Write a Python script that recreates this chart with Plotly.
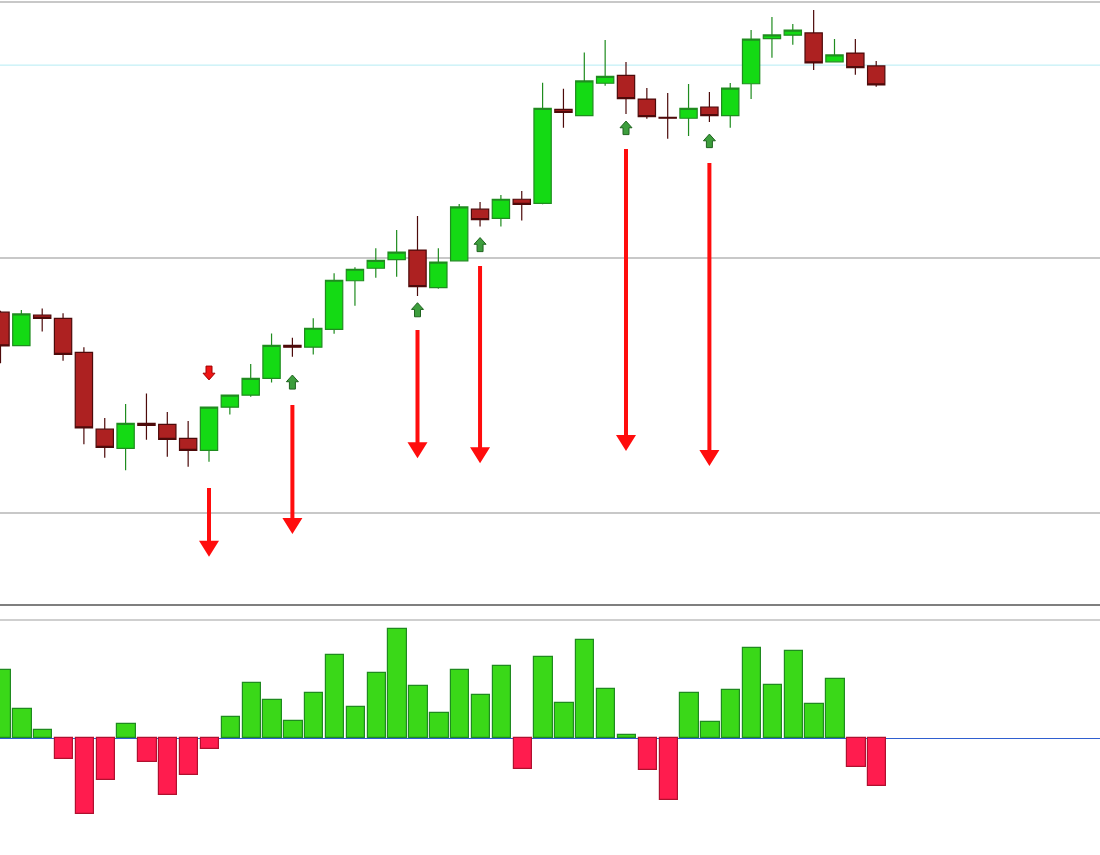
import plotly.graph_objects as go

# ---------------- data ----------------
bar_index = list(range(43))
open_ = [107.86, 106.55, 107.75, 107.62, 106.29, 103.28, 102.53, 103.51, 103.47, 102.92,
         102.45, 104.14, 104.61, 105.27, 106.56, 106.49, 107.19, 109.09, 109.58, 109.92,
         110.29, 108.82, 109.87, 111.89, 111.53, 112.28, 112.12, 115.80, 115.55, 116.82,
         117.13, 116.20, 115.49, 115.45, 115.89, 115.55, 116.80, 118.57, 118.70, 118.79,
         117.66, 118.00, 117.50]
high = [107.92, 107.95, 108.00, 107.82, 106.49, 103.72, 104.27, 104.68, 103.95, 103.60,
        104.14, 104.61, 105.83, 107.03, 106.86, 107.62, 109.38, 109.62, 110.36, 111.08,
        111.62, 110.36, 112.09, 112.17, 112.45, 112.60, 116.84, 116.60, 118.02, 118.51,
        117.65, 116.63, 116.44, 116.79, 116.48, 116.83, 118.90, 119.41, 119.14, 119.69,
        118.55, 118.55, 117.69]
low = [105.86, 106.55, 107.10, 105.96, 102.69, 102.16, 101.67, 102.87, 102.20, 101.81,
       102.01, 103.86, 104.55, 105.11, 106.12, 106.20, 107.02, 108.11, 109.21, 109.25,
       108.49, 108.78, 109.87, 111.21, 111.21, 111.45, 112.08, 115.08, 115.55, 116.72,
       115.62, 115.43, 114.65, 114.76, 115.30, 115.08, 116.20, 117.82, 118.33, 117.34,
       117.66, 117.15, 116.68]
close = [106.54, 107.79, 107.62, 106.21, 103.33, 102.57, 103.51, 103.43, 102.88, 102.45,
         104.14, 104.61, 105.27, 106.56, 106.49, 107.23, 109.11, 109.54, 109.89, 110.21,
         108.86, 109.82, 111.98, 111.48, 112.28, 112.08, 115.84, 115.68, 116.91, 117.09,
         116.22, 115.51, 115.45, 115.84, 115.55, 116.63, 118.55, 118.71, 118.90, 117.62,
         117.93, 117.43, 116.76]
histogram = [0.68, 0.29, 0.08, -0.21, -0.76, -0.42, 0.14, -0.24, -0.57, -0.37,
             -0.105, 0.21, 0.55, 0.38, 0.17, 0.45, 0.83, 0.31, 0.65, 1.09,
             0.52, 0.25, 0.68, 0.43, 0.72, -0.31, 0.81, 0.35, 0.98, 0.49,
             0.03, -0.32, -0.62, 0.45, 0.16, 0.48, 0.90, 0.53, 0.87, 0.34,
             0.59, -0.29, -0.48]

sell_index = [10, 14, 20, 23, 30, 34]
sell_top = [100.98, 104.23, 107.16, 109.67, 114.25, 113.70]
sell_tip = [98.29, 99.18, 102.14, 101.95, 102.43, 101.84]

up_index = [14, 20, 23, 30, 34]
up_base = [104.85, 107.68, 110.23, 114.81, 114.30]
up_tip = [105.40, 108.23, 110.78, 115.34, 114.83]

down_index = [10]
down_top = [105.75]
down_tip = [105.21]

level = 117.53
grid_levels = [100, 110, 120]

# ---------------- layout constants ----------------
W, H = 1100, 855
PX_X = 20.85            # pixels per bar
X_RANGE = [-0.5 / PX_X, (W - 0.5) / PX_X]
X2_RANGE = [-1.5 / PX_X, (W - 1.5) / PX_X]
TOP_BOTTOM_PX = 605
PX_Y = 25.55            # pixels per price unit
Y_RANGE = [100 - (TOP_BOTTOM_PX - 513) / PX_Y, 100 + 513 / PX_Y]
Y2_RANGE = [-(H - 738) / 100, (738 - TOP_BOTTOM_PX) / 100]
split = (H - TOP_BOTTOM_PX) / H

fig = go.Figure()

fig.add_trace(go.Candlestick(
    x=bar_index, open=open_, high=high, low=low, close=close,
    increasing=dict(line=dict(color="#1f8c1f", width=1.2), fillcolor="#14da14"),
    decreasing=dict(line=dict(color="#4d0a0a", width=1.2), fillcolor="#ad2121"),
    whiskerwidth=0, showlegend=False, xaxis="x", yaxis="y",
))

fig.add_trace(go.Bar(
    x=bar_index, y=histogram, width=0.88,
    marker=dict(color=["#3ad818" if v >= 0 else "#ff1c4e" for v in histogram],
                line=dict(color=["#1f8a1f" if v >= 0 else "#b0102f" for v in histogram],
                          width=1.2)),
    showlegend=False, xaxis="x2", yaxis="y2",
))


def arrow_path(x, start, tip, sw, hw, hh):
    d = 1 if tip > start else -1
    base = tip - d * hh
    pts = [(x - sw, start), (x + sw, start), (x + sw, base), (x + hw, base),
           (x, tip), (x - hw, base), (x - sw, base)]
    return "M" + " L".join(f"{px:.4f},{py:.4f}" for px, py in pts) + " Z"


shapes = []
for xi, t, p in zip(sell_index, sell_top, sell_tip):
    shapes.append(dict(type="path", xref="x", yref="y",
                       path=arrow_path(xi, t, p, 2 / PX_X, 10 / PX_X, 16 / PX_Y),
                       fillcolor="#ff0d0d", line=dict(width=0)))
for xi, b, t in zip(up_index, up_base, up_tip):
    shapes.append(dict(type="path", xref="x", yref="y",
                       path=arrow_path(xi, b, t, 3 / PX_X, 6 / PX_X, 6.7 / PX_Y),
                       fillcolor="#3d9e3d", line=dict(color="#1f631f", width=1)))
for xi, t, p in zip(down_index, down_top, down_tip):
    shapes.append(dict(type="path", xref="x", yref="y",
                       path=arrow_path(xi, t, p, 3 / PX_X, 6 / PX_X, 6.7 / PX_Y),
                       fillcolor="#f01414", line=dict(color="#a00000", width=1)))

shapes.append(dict(type="line", xref="paper", yref="y", x0=0, x1=1, y0=level, y1=level,
                   line=dict(color="#b4ecf4", width=1), layer="below"))
shapes.append(dict(type="line", xref="paper", yref="paper", x0=0, x1=1,
                   y0=split, y1=split, line=dict(color="#555555", width=1.5)))
shapes.append(dict(type="line", xref="paper", yref="paper", x0=0, x1=1,
                   y0=(H - 620) / H, y1=(H - 620) / H, line=dict(color="#cfcfcf", width=2)))

axis_off = dict(showgrid=False, zeroline=False, showticklabels=False, ticks="",
                showline=False, fixedrange=True)

fig.update_layout(
    width=W, height=H, margin=dict(l=0, r=0, t=0, b=0),
    paper_bgcolor="white", plot_bgcolor="white",
    boxgap=0.17, boxgroupgap=0,
    xaxis=dict(**axis_off, range=X_RANGE, anchor="y", rangeslider=dict(visible=False)),
    xaxis2=dict(**axis_off, range=X2_RANGE, anchor="y2"),
    yaxis=dict(domain=[split, 1], range=Y_RANGE, tickvals=grid_levels,
               showticklabels=False, ticks="", gridcolor="#c8c8c8", gridwidth=1.5,
               zeroline=False, showline=False),
    yaxis2=dict(domain=[0, split], range=Y2_RANGE, showgrid=False, showticklabels=False,
                ticks="", zeroline=True, zerolinecolor="#2f5fd0", zerolinewidth=1.2,
                showline=False),
    shapes=shapes,
    bargap=0,
)

fig.write_html(
    "out.html",
    config={"displayModeBar": False},
    post_script="document.body.style.margin='0';document.body.style.overflow='hidden';",
)
